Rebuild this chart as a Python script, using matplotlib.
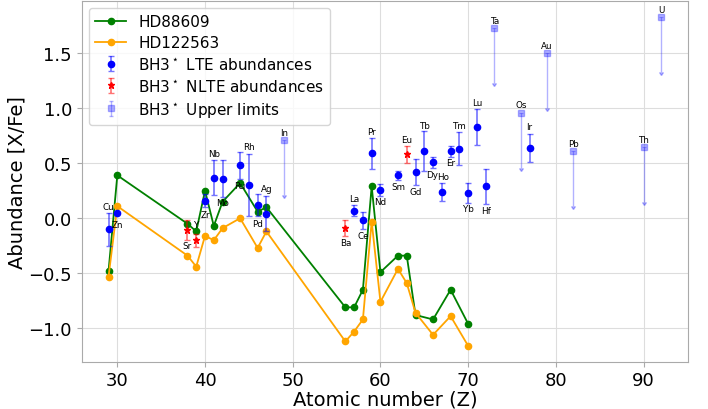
import numpy as np
import matplotlib
matplotlib.use('Agg')
import matplotlib.pyplot as plt

# comparison stars
z_stars = [29, 30, 38, 39, 40, 41, 42, 44, 46, 47, 56, 57, 58, 59, 60, 62, 63, 64, 66, 68, 70]
hd88609 = [-0.48, 0.39, -0.05, -0.12, 0.25, -0.07, 0.15, 0.32, 0.06, 0.10,
           -0.81, -0.81, -0.65, 0.29, -0.49, -0.34, -0.34, -0.88, -0.92, -0.65, -0.96]
hd122563 = [-0.53, 0.11, -0.34, -0.44, -0.16, -0.20, -0.09, 0.00, -0.27, -0.12,
            -1.12, -1.03, -0.92, -0.03, -0.76, -0.46, -0.59, -0.86, -1.06, -0.89, -1.16]

# BH3* LTE abundances
z_lte = [29, 30, 40, 41, 42, 44, 45, 46, 47, 57, 58, 59, 60, 62, 64, 65, 66, 67, 68, 69, 70, 71, 72, 77]
lte = [-0.10, 0.05, 0.16, 0.37, 0.36, 0.48, 0.30, 0.12, 0.04, 0.07, -0.02, 0.59,
       0.26, 0.39, 0.42, 0.61, 0.51, 0.24, 0.61, 0.63, 0.23, 0.83, 0.29, 0.64]
lte_err = [0.15, 0.01, 0.06, 0.16, 0.17, 0.12, 0.28, 0.10, 0.16, 0.05, 0.08, 0.14,
           0.055, 0.04, 0.12, 0.18, 0.05, 0.08, 0.05, 0.15, 0.09, 0.16, 0.16, 0.13]

# BH3* NLTE abundances
z_nlte = [38, 39, 56, 63]
nlte = [-0.11, -0.20, -0.09, 0.58]
nlte_err = [0.09, 0.06, 0.07, 0.08]

# BH3* upper limits
z_ul = [49, 73, 76, 79, 82, 90, 92]
ul = [0.71, 1.73, 0.96, 1.50, 0.61, 0.65, 1.83]

# element labels
el_names = ['Cu', 'Zn', 'Sr', 'Y', 'Zr', 'Nb', 'Mo', 'Ru', 'Rh', 'Pd', 'Ag', 'In',
            'Ba', 'La', 'Ce', 'Pr', 'Nd', 'Sm', 'Eu', 'Gd', 'Tb', 'Dy', 'Ho', 'Er',
            'Tm', 'Yb', 'Lu', 'Hf', 'Ta', 'Os', 'Ir', 'Au', 'Pb', 'Th', 'U']
el_z = [29, 30, 38, 39, 40, 41, 42, 44, 45, 46, 47, 49, 56, 57, 58, 59, 60, 62, 63,
        64, 65, 65.9, 67.1, 68, 69, 70, 71, 72, 73, 76, 77, 79, 82, 90, 92]
el_y = [0.11, -0.06, -0.25, -0.06, 0.03, 0.59, 0.14, 0.30, 0.65, -0.05, 0.27, 0.78,
        -0.22, 0.18, -0.16, 0.79, 0.15, 0.29, 0.72, 0.24, 0.84, 0.40, 0.38, 0.51,
        0.84, 0.085, 1.05, 0.07, 1.80, 1.03, 0.83, 1.57, 0.68, 0.72, 1.90]

fig, ax = plt.subplots(figsize=(7.08, 4.10), dpi=100)
fig.subplots_adjust(left=0.1154, right=0.9718, top=0.996, bottom=0.1154)

ax.plot(z_stars, hd88609, '-o', color='green', ms=4.5, lw=1.3, label='HD88609')
ax.plot(z_stars, hd122563, '-o', color='orange', ms=4.5, lw=1.3, label='HD122563')

ax.errorbar(z_lte, lte, yerr=lte_err, fmt='o', color='blue', ms=4.5,
            ecolor=(0, 0, 1, 0.55), elinewidth=1.2, capsize=2,
            label=r'BH3$^\star$ LTE abundances')
ax.errorbar(z_nlte, nlte, yerr=nlte_err, fmt='*', color='red', ms=4.5,
            ecolor=(1, 0, 0, 0.55), elinewidth=1.2, capsize=2,
            label=r'BH3$^\star$ NLTE abundances')
# upper limits: small caret at the bottom, cap hidden under the square
ax.errorbar(z_ul, ul, yerr=0.5, uplims=True, fmt='s', color='blue', alpha=0.3,
            ms=4, elinewidth=1.0, capsize=1.5, label=r'BH3$^\star$ Upper limits')

for name, z, y in zip(el_names, el_z, el_y):
    ax.text(z, y, name, ha='center', va='center', fontsize=6.3)

ax.set_xlim(25.94, 95.07)
ax.set_ylim(-1.304, 1.978)
ax.grid(True, color='#dddddd', lw=0.8)
ax.set_axisbelow(True)
for s in ax.spines.values():
    s.set_color('#aaaaaa')
ax.tick_params(labelsize=13, color='#aaaaaa')
ax.set_xlabel('Atomic number (Z)', fontsize=14, labelpad=0)
ax.set_ylabel('Abundance [X/Fe]', fontsize=14, labelpad=1)
ax.legend(loc='upper left', fontsize=11, labelspacing=0.38)

fig.savefig('out.png', dpi=100)
